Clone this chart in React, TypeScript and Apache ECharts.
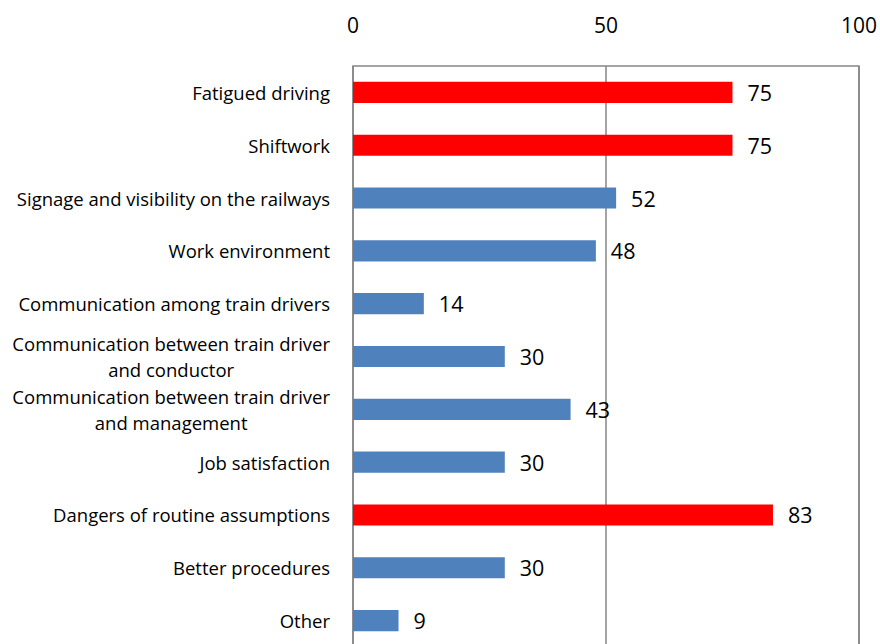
import React, { useEffect, useRef } from "react";
import * as echarts from "echarts";

const categories = [
  "Fatigued driving",
  "Shiftwork",
  "Signage and visibility on the railways",
  "Work environment",
  "Communication among train drivers",
  "Communication between train driver\nand conductor",
  "Communication between train driver\nand management",
  "Job satisfaction",
  "Dangers of routine assumptions",
  "Better procedures",
  "Other",
];
const values = [75, 75, 52, 48, 14, 30, 43, 30, 83, 30, 9];
const highlighted = [true, true, false, false, false, false, false, false, true, false, false];
const xTicks = { min: 0, max: 100, interval: 50 };

const RED = "#FF0000";
const BLUE = "#4F81BD";
const FONT = "Open Sans";

export default function App() {
  const ref = useRef<HTMLDivElement>(null);
  useEffect(() => {
    if (!ref.current) return;
    const chart = echarts.init(ref.current, null, { renderer: "svg" });
    chart.setOption({
      animation: false,
      backgroundColor: "#ffffff",
      grid: {
        left: 353,
        top: 66,
        width: 506,
        height: 581,
        show: true,
        borderColor: "#868686",
        borderWidth: 1.5,
        containLabel: false,
      },
      xAxis: {
        type: "value",
        position: "top",
        min: xTicks.min,
        max: xTicks.max,
        interval: xTicks.interval,
        axisLine: { show: false },
        axisTick: { show: false },
        axisLabel: { fontSize: 21, color: "#000", fontFamily: FONT, margin: 31 },
        splitLine: { show: true, lineStyle: { color: "#868686", width: 1.5 } },
      },
      yAxis: {
        type: "category",
        inverse: true,
        data: categories,
        axisLine: { show: false },
        axisTick: { show: false },
        axisLabel: {
          fontSize: 18.5,
          color: "#000",
          fontFamily: FONT,
          margin: 23,
          align: "right",
          lineHeight: 26,
          formatter: (v: string) =>
            v
              .split("\n")
              .map((line) => "{c|" + line + "}")
              .join("\n"),
          rich: {
            c: {
              align: "center",
              fontSize: 18.5,
              color: "#000",
              fontFamily: FONT,
              lineHeight: 26,
            },
          },
        },
      },
      series: [
        {
          type: "bar",
          barWidth: "40%",
          data: values.map((v, i) => ({
            value: v,
            itemStyle: { color: highlighted[i] ? RED : BLUE },
          })),
          label: {
            show: true,
            position: "right",
            distance: 15,
            fontSize: 21.5,
            color: "#000",
            fontFamily: FONT,
          },
        },
      ],
    });
    return () => chart.dispose();
  }, []);
  return (
    <div
      ref={ref}
      style={{ position: "fixed", left: 0, top: 0, width: 880, height: 660 }}
    />
  );
}
